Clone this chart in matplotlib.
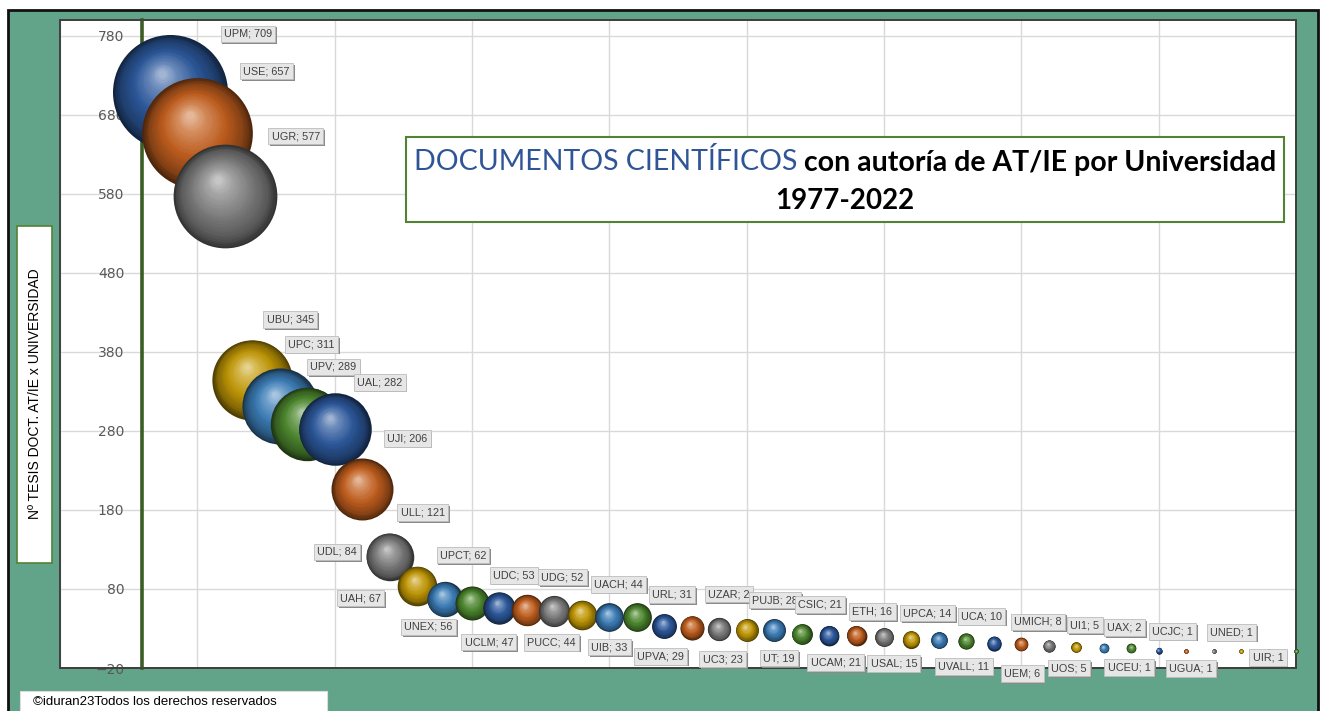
import numpy as np
import matplotlib
matplotlib.use("Agg")
import matplotlib.pyplot as plt
from matplotlib.transforms import ScaledTranslation
from matplotlib.patches import Rectangle
from matplotlib.offsetbox import TextArea, HPacker, AnnotationBbox
from matplotlib.colors import to_rgb

# ---------------- data ----------------
universities = ["UPM", "USE", "UGR", "UBU", "UPC", "UPV", "UAL", "UJI", "ULL", "UDL",
                "UAH", "UPCT", "UNEX", "UDC", "UDG", "UCLM", "UACH", "PUCC", "UIB", "URL",
                "UPVA", "UZAR", "PUJB", "UC3", "CSIC", "UCAM", "UT", "ETH", "USAL", "UPCA",
                "UVALL", "UCA", "UMICH", "UEM", "UI1", "UOS", "UAX", "UCEU", "UCJC", "UGUA",
                "UNED", "UIR"]
documents = [709, 657, 577, 345, 311, 289, 282, 206, 121, 84,
             67, 62, 56, 53, 52, 47, 44, 44, 33, 31,
             29, 28, 28, 23, 21, 21, 19, 16, 15, 14,
             11, 10, 8, 6, 5, 5, 2, 1, 1, 1,
             1, 1]
label_overrides = {"UZAR": "UZAR; 2"}   # label is clipped in the original
y_ticks = [-20, 80, 180, 280, 380, 480, 580, 680, 780]

# label offsets (pixels, right / down) relative to each bubble centre
label_offsets = [(78, -58), (69, -62), (71, -60), (38, -60), (32, -62), (26, -57), (45, -47),
                 (45, -51), (33, -44), (-80, -34), (-84, -1), (-9, -48), (-71, 19), (-13, -35),
                 (8, -34), (-93, 27), (9, -33), (-85, 25), (-55, 21), (-20, -33), (-59, 27),
                 (-18, -36), (1, -30), (-79, 25), (-9, -31), (-21, 27), (-105, 21), (-39, -28),
                 (-45, 23), (-39, -28), (-30, 23), (-40, -28), (-11, -24), (-54, 26), (-19, -23),
                 (-62, 20), (-34, -23), (-57, 16), (-41, -20), (-50, 17), (-37, -19), (-28, 6)]

palette = ["#2D5A9E", "#C4601F", "#808080", "#C49A06", "#3D7FBA", "#4F8A30"]

W, H = 1326, 711
fig = plt.figure(figsize=(W / 100, H / 100), dpi=100)
fig.patch.set_facecolor("white")


def fx(px):
    return px / W


def fy(py):
    return 1 - py / H


# green outer frame
fig.add_artist(Rectangle((fx(8), fy(730)), fx(1318) - fx(8), fy(10) - fy(730),
                         transform=fig.transFigure, fc="#62A48A", ec="#111111", lw=2,
                         zorder=-1))

ax = fig.add_axes([fx(60), fy(668), fx(1296) - fx(60), fy(20) - fy(668)])
ax.set_facecolor("white")
ax.set_xlim(-3, 42)
ax.set_ylim(-20, 800)
ax.set_xticks(np.arange(-3, 43, 5))
ax.set_yticks(y_ticks)
ax.tick_params(axis="x", length=0, labelbottom=False)
ax.tick_params(axis="y", length=0, pad=13, labelsize=10, labelcolor="#595959")
for lab in ax.get_yticklabels():
    lab.set_family("Liberation Sans")
ax.grid(True, color="#D9D9D9", lw=1)
ax.set_axisbelow(True)
for s in ["top", "right", "bottom"]:
    ax.spines[s].set_color("#404040")
    ax.spines[s].set_linewidth(1.2)
ax.spines["left"].set_position(("data", 0))
ax.spines["left"].set_color("#3B5E26")
ax.spines["left"].set_linewidth(2.6)
ax.add_patch(Rectangle((0, 0), 1, 1, transform=ax.transAxes, fill=False,
                       ec="#404040", lw=1.4, clip_on=False, zorder=2.4))

# ---------------- bubbles (3D-looking spheres) ----------------
vmax = max(documents)
D_MAX_PX = 115.0
N_LAYERS = 30
stops_t = [0.0, 0.15, 0.45, 0.8, 1.0]


def shade(base, t):
    b = np.array(to_rgb(base))
    w = np.ones(3)
    cols = [b * 0.40, b * 0.68, b * 0.95, b + (w - b) * 0.28, b + (w - b) * 0.55]
    cols = [np.clip(c, 0, 1) for c in cols]
    out = np.array([np.interp(t, stops_t, [c[j] for c in cols]) for j in range(3)])
    return out


for i, (name, v) in enumerate(zip(universities, documents)):
    x = i + 1
    r_px = D_MAX_PX / 2 * np.sqrt(v / vmax)
    base = palette[i % len(palette)]
    for k in range(N_LAYERS):
        t = k / (N_LAYERS - 1)
        f = 1 - 0.93 * t
        ox = -0.14 * r_px * t
        oy = 0.32 * r_px * t
        tr = ax.transData + ScaledTranslation(ox / 100, oy / 100, fig.dpi_scale_trans)
        ax.scatter([x], [v], s=(2 * r_px * f * 0.72) ** 2, c=[shade(base, t)],
                   transform=tr, lw=0, zorder=3 + i * 0.01, clip_on=False)

# ---------------- data labels ----------------
for i, (name, v) in enumerate(zip(universities, documents)):
    x = i + 1
    txt = label_overrides.get(name, f"{name}; {v}")
    dx, dy = label_offsets[i]
    ax.annotate(txt, (x, v), xytext=(dx * 0.72 + 1.3, -dy * 0.72 - 1.3),
                textcoords="offset points", ha="center", va="center", fontsize=7.8,
                family="Liberation Sans", color="#8A8A8A",
                bbox=dict(boxstyle="square,pad=0.3", fc="#8A8A8A", ec="none"),
                zorder=9, annotation_clip=False)
    ax.annotate(txt, (x, v), xytext=(dx * 0.72, -dy * 0.72),
                textcoords="offset points", ha="center", va="center", fontsize=7.8,
                family="Liberation Sans", color="#404040",
                bbox=dict(boxstyle="square,pad=0.3", fc="#E6E6E6", ec="#BDBDBD", lw=0.6),
                zorder=10, annotation_clip=False)

# ---------------- title box ----------------
fig.add_artist(Rectangle((fx(406), fy(222)), fx(1284) - fx(406), fy(137) - fy(222),
                         transform=fig.transFigure, fc="white", ec="#548235", lw=1.5,
                         zorder=5))
ta1 = TextArea("DOCUMENTOS CIENTÍFICOS",
               textprops=dict(color="#2F5597", fontsize=20.5, family="Lato"))
ta2 = TextArea(" con autoría de AT/IE por Universidad",
               textprops=dict(color="black", fontsize=20.5, family="Lato", weight="bold"))
pack = HPacker(children=[ta1, ta2], pad=0, sep=0, align="baseline")
ab = AnnotationBbox(pack, (fx(845), fy(162)), xycoords="figure fraction",
                    frameon=False, box_alignment=(0.5, 0.5), zorder=6)
fig.add_artist(ab)
fig.text(fx(845), fy(201), "1977-2022", ha="center", va="center", fontsize=20,
         family="Lato", weight="bold", color="black", zorder=6)

# ---------------- y-axis title box ----------------
fig.add_artist(Rectangle((fx(17), fy(563)), fx(52) - fx(17), fy(226) - fy(563),
                         transform=fig.transFigure, fc="white", ec="#548235", lw=1.2,
                         zorder=5))
fig.text(fx(35), fy(394), "Nº TESIS DOCT. AT/IE x UNIVERSIDAD", rotation=90,
         ha="center", va="center", fontsize=10, family="Liberation Sans",
         color="black", zorder=6)

# ---------------- copyright box ----------------
fig.add_artist(Rectangle((fx(20), fy(730)), fx(327) - fx(20), fy(691) - fy(730),
                         transform=fig.transFigure, fc="white", ec="#DDDDDD", lw=0.8,
                         zorder=5))
fig.text(fx(33), fy(702), "©iduran23Todos los derechos reservados", ha="left",
         va="center", fontsize=9.5, family="Liberation Sans", color="black", zorder=6)

fig.savefig("out.png", dpi=100)
